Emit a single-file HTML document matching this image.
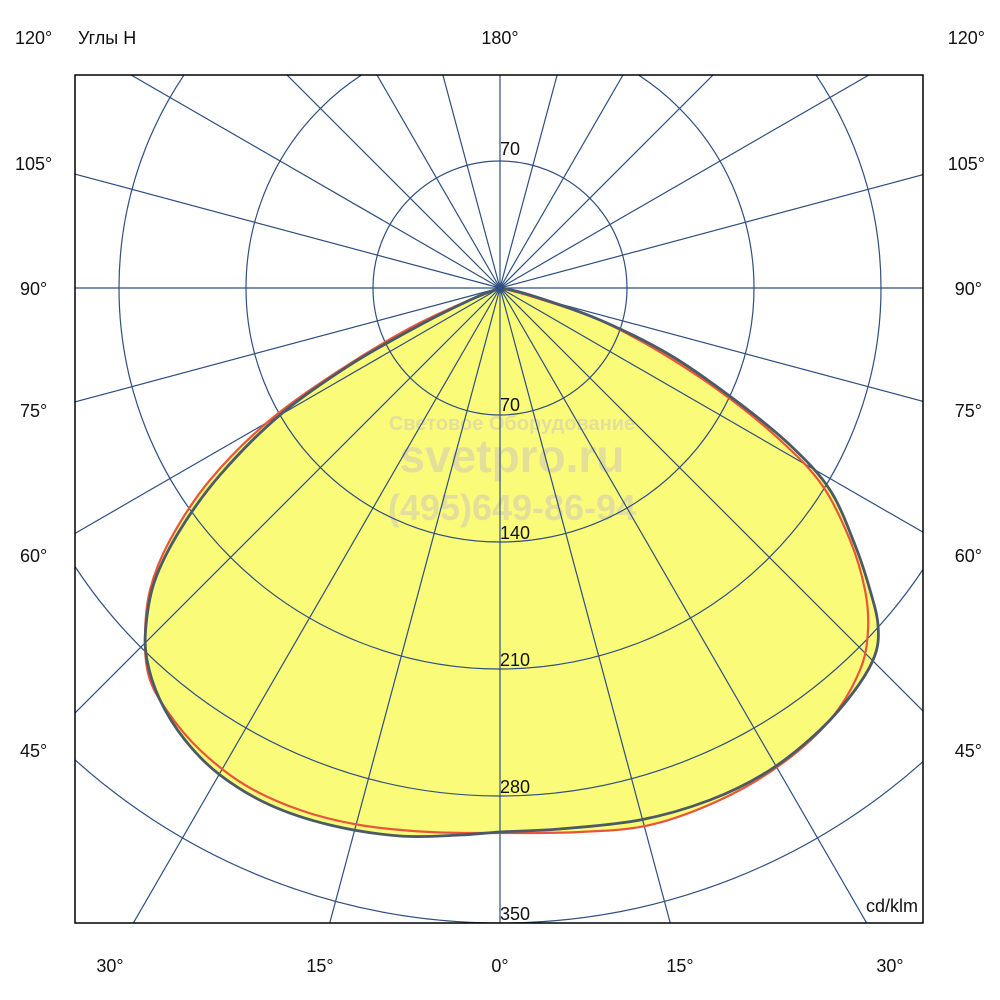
<!DOCTYPE html>
<html><head><meta charset="utf-8"><style>
html,body{margin:0;padding:0;background:#fff;overflow:hidden;width:1000px;height:1000px}
svg{display:block}
text{font-family:"Liberation Sans","DejaVu Sans",sans-serif;fill:#111}
</style></head><body>
<svg width="1000" height="1000" viewBox="0 0 1000 1000" xmlns="http://www.w3.org/2000/svg">
<defs><clipPath id="c"><rect x="75" y="75" width="848" height="848"/></clipPath></defs>
<rect width="1000" height="1000" fill="#fff"/>
<g clip-path="url(#c)">
<path id="f1" fill="#fbfb7a"/>
<path id="f2" fill="#fbfb7a"/>
<g text-anchor="middle" font-weight="bold">
<text x="512" y="430" font-size="20" style="fill:#e3df9a">Световое Оборудование</text>
<text x="512" y="472" font-size="46" style="fill:#e3df9a">svetpro.ru</text>
<text x="512" y="520" font-size="36" style="fill:#e3df9a">(495)649-86-94</text>
</g>
<g fill="none" stroke="#2e4f80" stroke-width="1.2">
<circle cx="500" cy="288" r="127"/><circle cx="500" cy="288" r="254"/><circle cx="500" cy="288" r="381"/><circle cx="500" cy="288" r="508"/><circle cx="500" cy="288" r="635"/>
<line x1="0" y1="288" x2="1000" y2="288"/>
<line x1="500" y1="0" x2="500" y2="1000"/>
<g id="h">
<line x1="500" y1="288" x2="-2000" y2="-382"/>
<line x1="500" y1="288" x2="-366" y2="-212"/>
<line x1="500" y1="288" x2="-207" y2="-419"/>
<line x1="500" y1="288" x2="0" y2="-578"/>
<line x1="500" y1="288" x2="241" y2="-678"/>
<line x1="500" y1="288" x2="-2000" y2="958"/>
<line x1="500" y1="288" x2="-366" y2="788"/>
<line x1="500" y1="288" x2="-207" y2="995"/>
<line x1="500" y1="288" x2="0" y2="1154"/>
<line x1="500" y1="288" x2="241" y2="1254"/>
</g>
<use href="#h" transform="translate(1000,0) scale(-1,1)"/>
</g>
<path id="s1" fill="none" stroke="#e8553a" stroke-width="2.2" stroke-linejoin="round"/>
<path id="s2" fill="none" stroke="#4a5a68" stroke-width="2.8" stroke-linejoin="round"/>
<circle cx="500" cy="288" r="4" fill="#2e4f80"/>
</g>
<rect x="75" y="75" width="848" height="848" fill="none" stroke="#000" stroke-width="1.5"/>
<g font-size="18">
<text x="500" y="155">70</text>
<text x="500" y="411">70</text>
<text x="500" y="539">140</text>
<text x="500" y="666">210</text>
<text x="500" y="793">280</text>
<text x="500" y="920">350</text>
<text x="918" y="912" text-anchor="end">cd/klm</text>
<text x="15" y="44">120°</text>
<text x="78" y="44">Углы Н</text>
<text x="500" y="44" text-anchor="middle">180°</text>
<text x="985" y="44" text-anchor="end">120°</text>
<text x="15" y="170">105°</text><text x="985" y="170" text-anchor="end">105°</text>
<text x="20" y="295">90°</text><text x="982" y="295" text-anchor="end">90°</text>
<text x="20" y="417">75°</text><text x="982" y="417" text-anchor="end">75°</text>
<text x="20" y="562">60°</text><text x="982" y="562" text-anchor="end">60°</text>
<text x="20" y="757">45°</text><text x="982" y="757" text-anchor="end">45°</text>
<text x="110" y="972" text-anchor="middle">30°</text>
<text x="320" y="972" text-anchor="middle">15°</text>
<text x="500" y="972" text-anchor="middle">0°</text>
<text x="680" y="972" text-anchor="middle">15°</text>
<text x="890" y="972" text-anchor="middle">30°</text>
</g>
</svg>
<script>
function smooth(p){
  var n=p.length,d="M"+p[0][0]+","+p[0][1];
  for(var i=0;i<n;i++){
    var p0=p[(i-1+n)%n],p1=p[i],p2=p[(i+1)%n],p3=p[(i+2)%n];
    var c1x=p1[0]+(p2[0]-p0[0])/6,c1y=p1[1]+(p2[1]-p0[1])/6;
    var c2x=p2[0]-(p3[0]-p1[0])/6,c2y=p2[1]-(p3[1]-p1[1])/6;
    if(i==n-1||i==0){ if(i==0){c1x=p1[0];c1y=p1[1];} else {c2x=p2[0];c2y=p2[1];} }
    d+=" C"+c1x.toFixed(1)+","+c1y.toFixed(1)+" "+c2x.toFixed(1)+","+c2y.toFixed(1)+" "+p2[0]+","+p2[1];
  }
  return d+"Z";
}
var red=[[500,288],[465,302],[410,328],[340,370],[270,420],[210,480],[170,540],[150,590],[145,640],[150,680],[170,715],[200,750],[245,785],[300,810],[360,825],[430,832],[500,833],[580,832],[650,825],[720,800],[780,765],[830,720],[860,670],[868,630],[865,590],[850,540],[822,485],[780,440],[725,395],[660,352],[595,318],[530,296]];
var dk=[[500,288],[470,300],[420,325],[350,365],[280,415],[220,475],[180,530],[155,580],[146,625],[147,660],[160,700],[185,740],[220,775],[270,805],[330,825],[400,836],[460,835],[500,832],[560,829],[640,820],[710,800],[770,770],[820,730],[855,690],[875,655],[878,625],[870,590],[855,545],[830,490],[790,445],[735,400],[670,355],[600,320],[530,295]];
var a=smooth(red),b=smooth(dk);
document.getElementById('f1').setAttribute('d',a);
document.getElementById('f2').setAttribute('d',b);
document.getElementById('s1').setAttribute('d',a);
document.getElementById('s2').setAttribute('d',b);
</script>
</body></html>
